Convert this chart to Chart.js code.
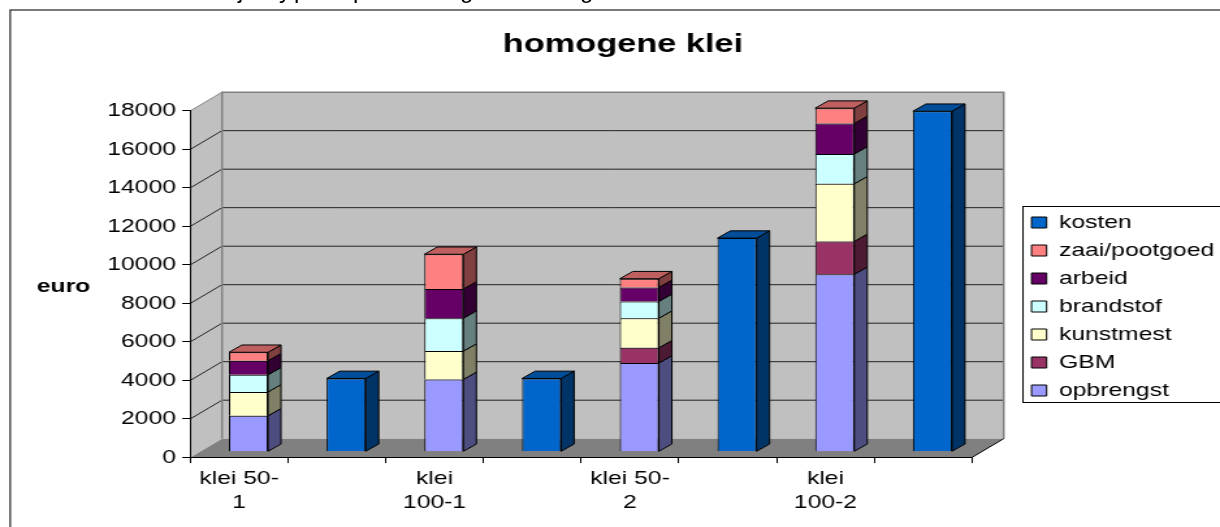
<!DOCTYPE html>
<html>
<head>
<meta charset="utf-8">
<title>homogene klei</title>
<script src="https://cdn.jsdelivr.net/npm/chart.js@4"></script>
<style>
    html, body { margin: 0; padding: 0; background: #fff; width: 1220px; height: 527px; overflow: hidden; }
    /* the reference is a picture stretched sideways, so the canvas is too */
    #chart { position: absolute; left: 0; top: 0; transform-origin: 0 0; transform: scaleX(1.30064); }
    .cut { position: absolute; top: -24px; font: 24px "Liberation Sans", Arial, sans-serif; color: #000; }
</style>
</head>
<body>
<canvas id="chart" width="938" height="527"></canvas>
<script>
const categories = [['klei 50-', '1'], '', ['klei', '100-1'], '', ['klei 50-', '2'], '', ['klei', '100-2'], ''];

const opbrengst = [1870, null, 3760, null, 4610, null, 9220, null];
const gbm = [null, null, null, null, 790, null, 1710, null];
const kunstmest = [1240, null, 1470, null, 1540, null, 2990, null];
const brandstof = [890, null, 1710, null, 870, null, 1550, null];
const arbeid = [730, null, 1520, null, 730, null, 1590, null];
const zaaiPootgoed = [440, null, 1800, null, 450, null, 790, null];
const kosten = [null, 3810, null, 3810, null, 11100, null, 17690];

const yTicks = [0, 2000, 4000, 6000, 8000, 10000, 12000, 14000, 16000, 18000];

// letters of the line above the chart, cut off by the picture edge
const cutLetters = ['j', 'y', 'p', 'p', 'g', 'g'];
const cutLetterX = [238, 279, 294, 353, 460, 580];

cutLetters.forEach((letter, i) => {
    const span = document.createElement('span');
    span.className = 'cut';
    span.style.left = cutLetterX[i] + 'px';
    span.textContent = letter;
    document.body.appendChild(span);
});

const FONT = '"Liberation Sans", Arial, sans-serif';
const STRETCH = 1220 / 938;
const wallDepth = { x: 31.7 / STRETCH, y: 18.7 };  // front of floor to back wall
const barShift = { x: 9.3 / STRETCH, y: 5.6 };     // front of floor to front of bars
const barDepth = { x: 13 / STRETCH, y: 7.3 };

function shade(hex, f) {
    const n = parseInt(hex.slice(1), 16);
    const r = Math.round((n >> 16) * f), g = Math.round(((n >> 8) & 255) * f), b = Math.round((n & 255) * f);
    return `rgb(${r},${g},${b})`;
}

function poly(ctx, pts, fill, stroke, lw) {
    ctx.beginPath();
    pts.forEach((p, i) => i ? ctx.lineTo(p[0], p[1]) : ctx.moveTo(p[0], p[1]));
    ctx.closePath();
    if (fill) { ctx.fillStyle = fill; ctx.fill(); }
    if (stroke) { ctx.strokeStyle = stroke; ctx.lineWidth = lw; ctx.stroke(); }
}

const scenery = {
    id: 'scenery',
    afterLayout(chart) {
        // legend and title sit where the reference has them, not where the layout puts them
        chart.legend.left = 1019.8 / STRETCH;
        chart.legend.right = chart.legend.left + 300;
        chart.legend.top = 204;
        chart.legend.bottom = 527;
        chart.titleBlock.left = 0;
        chart.titleBlock.right = 623 * 2 / STRETCH;
    },
    beforeDraw(chart) {
        const { ctx, chartArea: a, scales: { y } } = chart;
        const dx = wallDepth.x, dy = wallDepth.y;
        ctx.save();

        // frame round the whole chart, cut off right and bottom
        ctx.strokeStyle = '#222';
        ctx.lineWidth = 1.2;
        ctx.strokeRect(10.2 / STRETCH, 10, 1300, 600);

        // side wall, back wall, floor
        const top = y.getPixelForValue(yTicks[yTicks.length - 1]);
        const bot = y.getPixelForValue(0);
        poly(ctx, [[a.left, bot], [a.left + dx, bot - dy], [a.left + dx, top - dy], [a.left, top]], '#c0c0c0');
        poly(ctx, [[a.left + dx, bot - dy], [a.right + dx, bot - dy], [a.right + dx, top - dy], [a.left + dx, top - dy]], '#c0c0c0');

        // gridlines along the side wall and over the back wall
        ctx.strokeStyle = '#222';
        ctx.lineWidth = 1;
        yTicks.slice(1, -1).forEach(v => {
            const py = y.getPixelForValue(v);
            ctx.beginPath();
            ctx.moveTo(a.left, py);
            ctx.lineTo(a.left + dx, py - dy);
            ctx.lineTo(a.right + dx, py - dy);
            ctx.stroke();
        });
        ctx.beginPath();
        ctx.moveTo(a.left, top);
        ctx.lineTo(a.left + dx, top - dy);
        ctx.strokeStyle = '#808080';
        ctx.stroke();

        // wall edges
        ctx.lineWidth = 1.5;
        ctx.beginPath();
        ctx.moveTo(a.left + dx, bot - dy);
        ctx.lineTo(a.left + dx, top - dy);
        ctx.lineTo(a.right + dx, top - dy);
        ctx.lineTo(a.right + dx, bot - dy);
        ctx.stroke();

        poly(ctx, [[a.left, bot], [a.right, bot], [a.right + dx, bot - dy], [a.left + dx, bot - dy]], '#808080');
        ctx.strokeStyle = '#000';
        ctx.lineWidth = 1;
        ctx.beginPath();
        ctx.moveTo(a.right, bot);
        ctx.lineTo(a.right + dx, bot - dy);
        ctx.stroke();

        // legend box, runs past the right edge like the reference
        ctx.fillStyle = '#fff';
        ctx.fillRect(1023 / STRETCH, 206.5, 300, 196);
        ctx.strokeStyle = '#000';
        ctx.lineWidth = 1;
        ctx.strokeRect(1023 / STRETCH, 206.5, 300, 196);

        // horizontal axis title, the library only rotates this one
        ctx.fillStyle = '#000';
        ctx.font = 'bold 19px ' + FONT;
        ctx.textAlign = 'center';
        ctx.textBaseline = 'middle';
        ctx.fillText('euro', 63.5 / STRETCH, 287);
        ctx.restore();
    },
    beforeDatasetsDraw(chart) {
        chart.ctx.save();
        chart.ctx.translate(barShift.x, -barShift.y);
    },
    afterDatasetsDraw(chart) {
        const ctx = chart.ctx;
        const dx = barDepth.x, dy = barDepth.y;
        const topOfStack = {};
        chart.data.datasets.forEach((ds, i) => {
            chart.getDatasetMeta(i).data.forEach((bar, j) => {
                if (ds.data[j] == null) return;
                const right = bar.x + bar.width / 2;
                poly(ctx, [[right, bar.base], [right + dx, bar.base - dy], [right + dx, bar.y - dy], [right, bar.y]],
                    shade(ds.backgroundColor, 0.5), '#000', 1);
                topOfStack[j] = { bar, color: ds.backgroundColor };
            });
        });
        Object.values(topOfStack).forEach(({ bar, color }) => {
            const left = bar.x - bar.width / 2, right = bar.x + bar.width / 2;
            poly(ctx, [[left, bar.y], [right, bar.y], [right + dx, bar.y - dy], [left + dx, bar.y - dy]],
                shade(color, 0.75), '#000', 1);
        });
        ctx.restore();
    }
};

function barSet(label, data, color) {
    return { label, data, backgroundColor: color, borderColor: '#000', borderWidth: 1, clip: false };
}

new Chart(document.getElementById('chart'), {
    type: 'bar',
    data: {
        labels: categories,
        datasets: [
            barSet('opbrengst', opbrengst, '#9999FF'),
            barSet('GBM', gbm, '#993366'),
            barSet('kunstmest', kunstmest, '#FFFFCC'),
            barSet('brandstof', brandstof, '#CCFFFF'),
            barSet('arbeid', arbeid, '#660066'),
            barSet('zaai/pootgoed', zaaiPootgoed, '#FF8080'),
            barSet('kosten', kosten, '#0066CC')
        ]
    },
    options: {
        responsive: false,
        animation: false,
        devicePixelRatio: 1,
        barPercentage: 0.4,
        categoryPercentage: 1,
        layout: { padding: { right: 938 - 972 / STRETCH, left: 0, top: 0, bottom: 0 } },
        plugins: {
            title: {
                display: true,
                text: 'homogene klei',
                color: '#000',
                font: { family: FONT, size: 26.4, weight: 'bold', lineHeight: 1.2 },
                padding: { top: 28.7, bottom: 50.5 }
            },
            legend: {
                position: 'chartArea',
                align: 'start',
                reverse: true,
                labels: {
                    color: '#000',
                    font: { family: FONT, size: 19 },
                    boxWidth: 11.6,
                    boxHeight: 11,
                    padding: 9
                }
            },
            tooltip: { enabled: false }
        },
        scales: {
            x: {
                stacked: true,
                afterFit(s) { s.height = 527 - 457.4; },
                border: { color: '#000', width: 1 },
                grid: { drawOnChartArea: false, color: '#000', tickLength: 5.7, offset: true },
                ticks: {
                    color: '#000',
                    font: { family: FONT, size: 19, lineHeight: 1.27 },
                    maxRotation: 0,
                    autoSkip: false,
                    padding: 3.5
                }
            },
            y: {
                stacked: true,
                min: 0,
                max: 18000,
                afterFit(s) { s.width = 190.3 / STRETCH; },
                afterBuildTicks(s) { s.ticks = yTicks.map(value => ({ value })); },
                border: { color: '#000', width: 1 },
                grid: { drawOnChartArea: false, color: '#000', tickLength: 6.2 },
                ticks: {
                    color: '#000',
                    font: { family: FONT, size: 19 },
                    padding: 4.8,
                    callback: v => String(v)
                }
            }
        }
    },
    plugins: [scenery]
});
</script>
</body>
</html>
